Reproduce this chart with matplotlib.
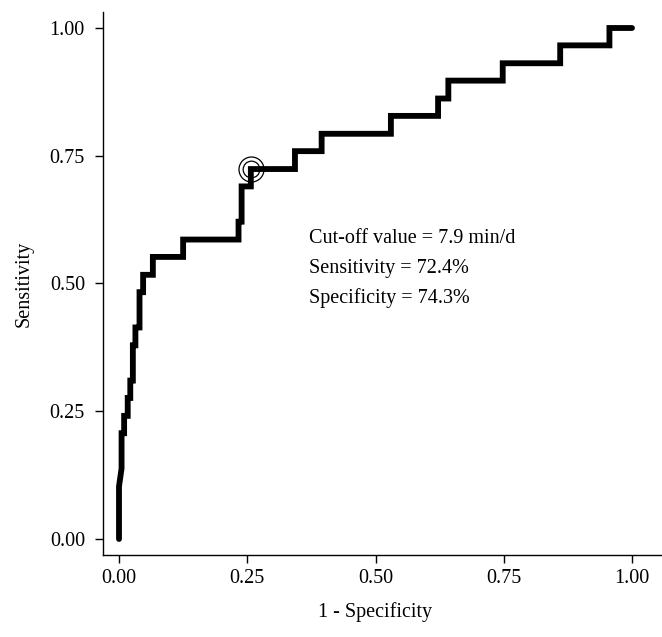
import matplotlib
matplotlib.use("Agg")
import matplotlib.pyplot as plt

# ROC curve corner points (1 - specificity, sensitivity)
fpr = [0.000, 0.000, 0.005, 0.005, 0.010, 0.010, 0.017, 0.017, 0.022, 0.022,
       0.027, 0.027, 0.032, 0.032, 0.040, 0.040, 0.047, 0.047, 0.066, 0.066,
       0.125, 0.125, 0.233, 0.233, 0.239, 0.239, 0.257, 0.257, 0.343, 0.343,
       0.395, 0.395, 0.530, 0.530, 0.622, 0.622, 0.642, 0.642, 0.748, 0.748,
       0.860, 0.860, 0.956, 0.956, 1.000]
tpr = [0.000, 0.103, 0.138, 0.207, 0.207, 0.241, 0.241, 0.276, 0.276, 0.310,
       0.310, 0.379, 0.379, 0.414, 0.414, 0.483, 0.483, 0.517, 0.517, 0.552,
       0.552, 0.586, 0.586, 0.621, 0.621, 0.690, 0.690, 0.724, 0.724, 0.759,
       0.759, 0.793, 0.793, 0.828, 0.828, 0.862, 0.862, 0.897, 0.897, 0.931,
       0.931, 0.966, 0.966, 1.000, 1.000]

cutoff_fpr = 0.257
cutoff_tpr = 0.724
notes = ["Cut-off value = 7.9 min/d", "Sensitivity = 72.4%", "Specificity = 74.3%"]
ticks = [0.00, 0.25, 0.50, 0.75, 1.00]
tick_labels = ["0.00", "0.25", "0.50", "0.75", "1.00"]

plt.rcParams['font.family'] = ['Liberation Serif', 'DejaVu Serif']
fs = 14.5

fig = plt.figure(figsize=(6.62, 6.37), dpi=100)
ax = fig.add_axes([103 / 662, 82 / 637, 559 / 662, 543 / 637])

ax.plot(fpr, tpr, color='black', lw=4.2, solid_capstyle='round',
        solid_joinstyle='miter')

# double circle at the chosen cut-off
ax.plot(cutoff_fpr, cutoff_tpr, 'o', ms=18, mfc='none', mec='black', mew=0.9)
ax.plot(cutoff_fpr, cutoff_tpr, 'o', ms=12, mfc='none', mec='black', mew=0.9)

for i, s in enumerate(notes):
    ax.text(0.370, 0.588 - i * 0.058, s, fontsize=fs, va='center', ha='left')

ax.set_xlim(-16 / 513, 543 / 513)
ax.set_ylim(-16 / 511, 527 / 511)

ax.set_xticks(ticks)
ax.set_xticklabels(tick_labels, fontsize=fs)
ax.set_yticks(ticks)
ax.set_yticklabels(tick_labels, fontsize=fs)
ax.tick_params(axis='x', length=6, width=1, pad=4)
ax.tick_params(axis='y', length=6, width=1, pad=7)

for axis in ['top', 'right']:
    ax.spines[axis].set_visible(False)
for axis in ['left', 'bottom']:
    ax.spines[axis].set_linewidth(1)

ax.set_xlabel("1 - Specificity", fontsize=fs)
ax.set_ylabel("Sensitivity", fontsize=fs)
ax.xaxis.set_label_coords(0.5 / (559 / 513) + 16 / 559, -47 / 543)
ax.yaxis.set_label_coords(-69 / 559, (0.5 * 511 + 16) / 543)

fig.savefig("out.png", dpi=100)
